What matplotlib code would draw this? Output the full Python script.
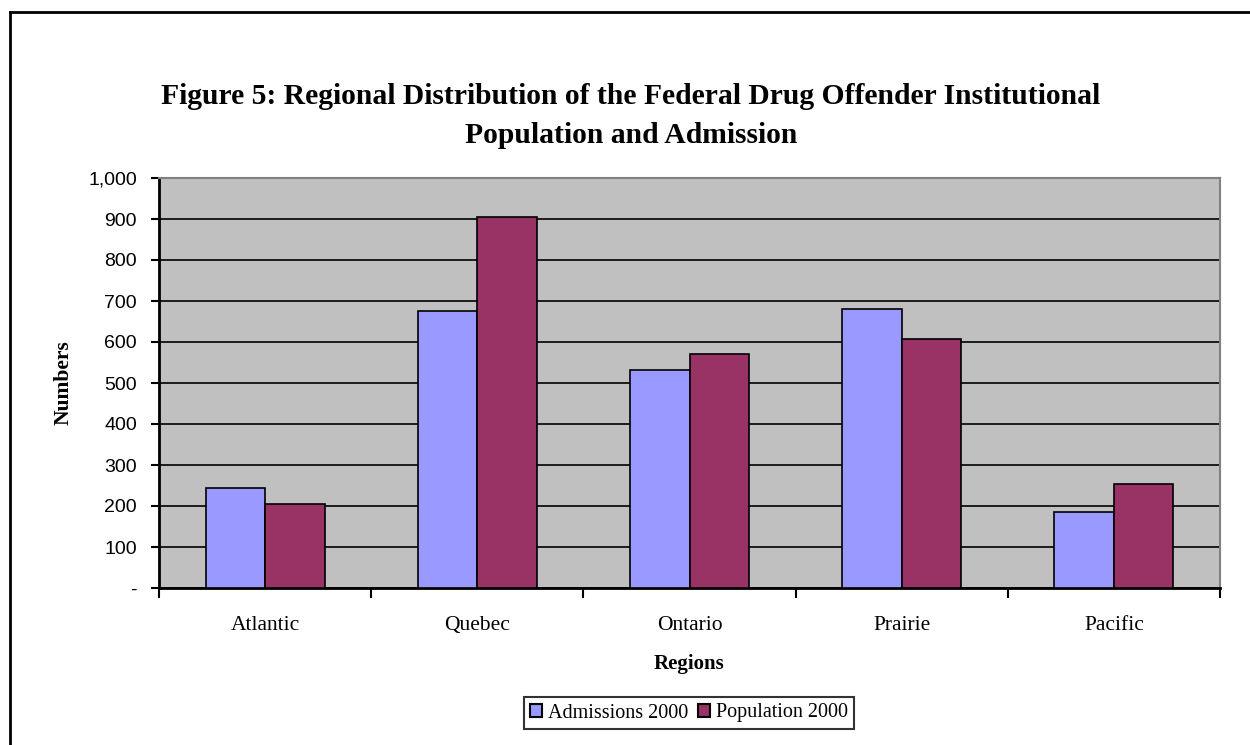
import matplotlib
matplotlib.use("Agg")
import matplotlib.pyplot as plt
from matplotlib.patches import Patch
from matplotlib.lines import Line2D
import numpy as np

regions = ["Atlantic", "Quebec", "Ontario", "Prairie", "Pacific"]
admissions_2000 = [244, 676, 531, 681, 185]
population_2000 = [204, 906, 570, 608, 253]
series_names = ["Admissions 2000", "Population 2000"]
yticks = [0, 100, 200, 300, 400, 500, 600, 700, 800, 900, 1000]
ytick_labels = ["-", "100", "200", "300", "400", "500", "600", "700", "800", "900", "1,000"]

adm_color = "#9999FF"
pop_color = "#993366"
serif = "Liberation Serif"
sans = "Liberation Sans"

fig = plt.figure(figsize=(12.5, 7.45), dpi=100)
ax = fig.add_axes([159/1250, 1-588/745, (1220-159)/1250, (588-178)/745])
ax.set_facecolor("#C0C0C0")

x = np.arange(len(regions))
w = 0.28
ax.bar(x - w/2, admissions_2000, w, color=adm_color, edgecolor="black", linewidth=1.2, zorder=3)
ax.bar(x + w/2, population_2000, w, color=pop_color, edgecolor="black", linewidth=1.2, zorder=3)

ax.set_xlim(-0.5, len(regions) - 0.5)
ax.set_ylim(0, 1000)
ax.set_yticks(yticks)
ax.set_yticklabels(ytick_labels, fontfamily=sans, fontsize=14)
ax.yaxis.grid(True, color="black", linewidth=1.2, zorder=1)
ax.set_axisbelow(True)
ax.tick_params(axis="y", length=6, width=1.5, pad=10, direction="out")

ax.set_xticks(x)
ax.set_xticklabels(regions, fontfamily=serif, fontsize=15.5)
ax.set_xticks(np.arange(-0.5, len(regions)), minor=True)
ax.tick_params(axis="x", which="major", length=0, pad=20)
ax.tick_params(axis="x", which="minor", length=7, width=1.5, direction="out")

for s in ["left", "bottom"]:
    ax.spines[s].set_color("black")
    ax.spines[s].set_linewidth(2)
for s in ["top", "right"]:
    ax.spines[s].set_color("#808080")
    ax.spines[s].set_linewidth(1.5)

ax.set_xlabel("Regions", fontfamily=serif, fontsize=15, fontweight="bold", labelpad=14)
ax.set_ylabel("Numbers", fontfamily=serif, fontsize=15.5, fontweight="bold")
ax.yaxis.set_label_coords(-0.081, 0.5)

fig.text(631/1250, 1-116/745, "Figure 5: Regional Distribution of the Federal Drug Offender Institutional\nPopulation and Admission",
         ha="center", va="center", fontfamily=serif, fontsize=21.3, fontweight="bold", linespacing=1.55)

handles = [Patch(facecolor=adm_color, edgecolor="black", linewidth=1.5),
           Patch(facecolor=pop_color, edgecolor="black", linewidth=1.5)]
leg = fig.legend(handles, series_names, loc="center", bbox_to_anchor=(689/1250, 1-713/745), ncol=2,
                 prop={"family": serif, "size": 14.5}, frameon=True, fancybox=False,
                 handlelength=0.6, handleheight=0.6, handletextpad=0.3, columnspacing=0.5,
                 borderpad=0.3, borderaxespad=0)
leg.get_frame().set_edgecolor("black")
leg.get_frame().set_linewidth(1.5)

fig.add_artist(Line2D([10/1250, 10/1250], [0, 1-12/745], transform=fig.transFigure, color="black", linewidth=2))
fig.add_artist(Line2D([10/1250, 1], [1-12/745, 1-12/745], transform=fig.transFigure, color="black", linewidth=2))

fig.savefig("out.png", dpi=100)
